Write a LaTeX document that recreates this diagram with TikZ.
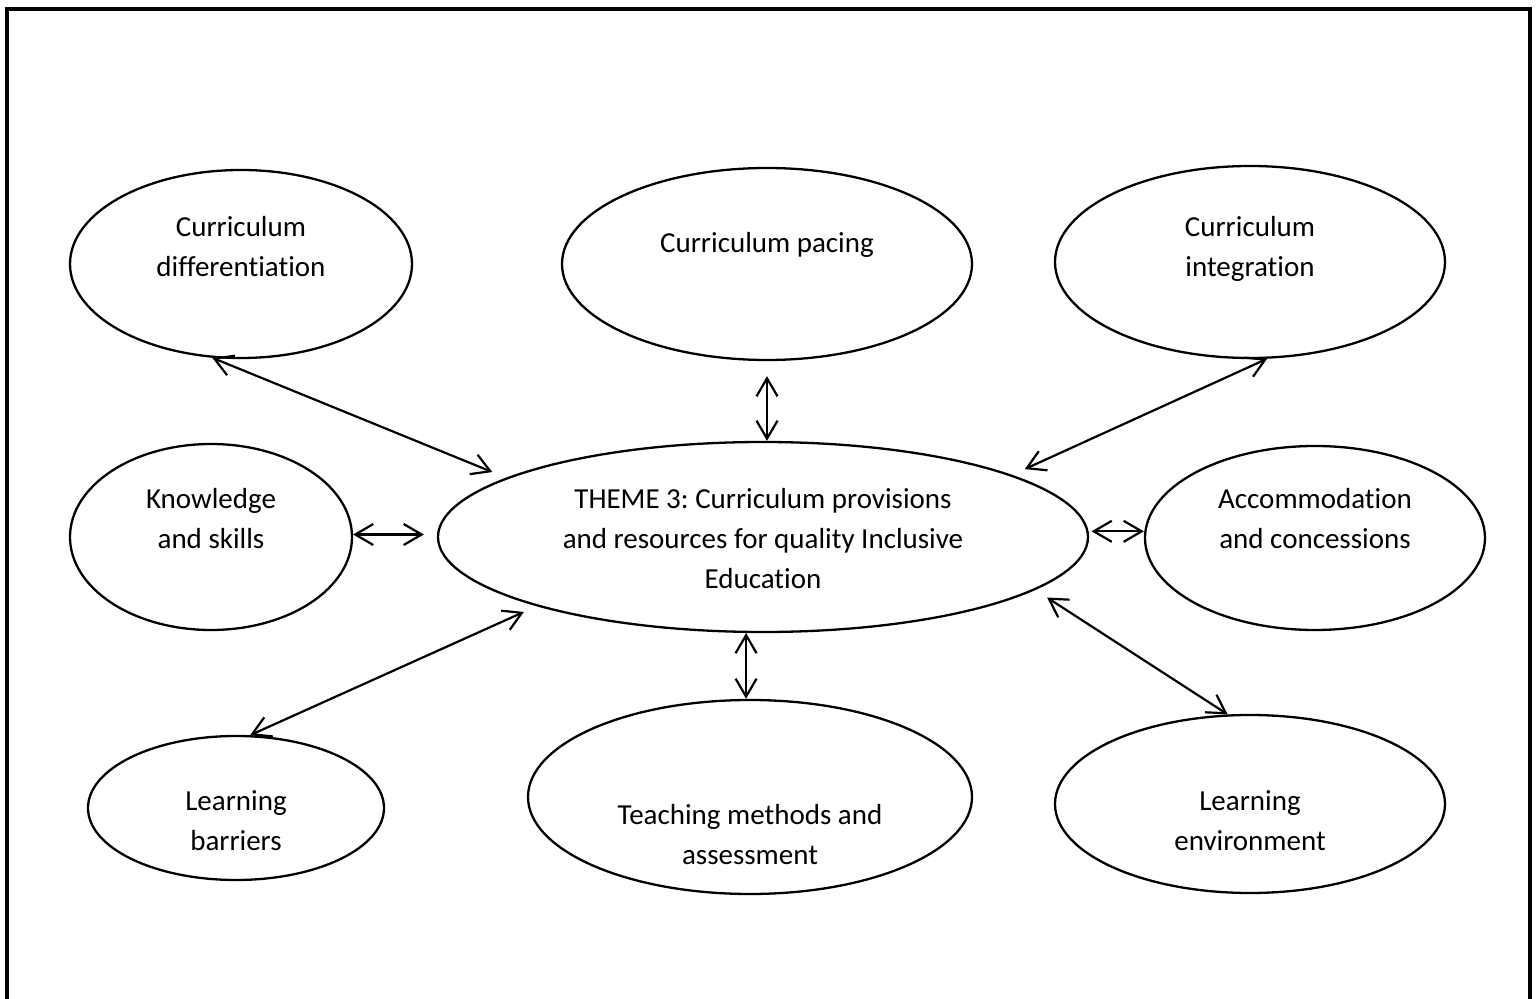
\documentclass[tikz,border=0pt]{standalone}
\usepackage{fontspec}
\setmainfont[Ligatures=NoCommon]{Carlito}
\usetikzlibrary{shapes.geometric,arrows.meta}
\newcommand\fstrut{\rule{0pt}{15pt}}
\frenchspacing
\begin{document}
\begin{tikzpicture}[x=0.5pt,y=-0.5pt,
  ell/.style={draw,ellipse,line width=1.15pt,inner sep=0pt},
  lbl/.style={anchor=north,align=center,inner sep=0pt,font=\frenchspacing\fontsize{14.5}{20}\selectfont},
  arr/.style={{Straight Barb[length=9pt,width=10.5pt]}-{Straight Barb[length=9pt,width=10.5pt]},line width=1.1pt}]
\useasboundingbox (0,0) rectangle (1538,999);
\draw[line width=2pt] (7,9) rectangle (1530,1012);
% ellipses
\node[ell,minimum width=171pt,minimum height=94pt] (diff) at (241,264) {};
\node[ell,minimum width=205pt,minimum height=96pt] (pac) at (767,264) {};
\node[ell,minimum width=195pt,minimum height=96pt] (integ) at (1250,262) {};
\node[ell,minimum width=141pt,minimum height=93pt] (kno) at (211,537) {};
\node[ell,minimum width=325pt,minimum height=95pt] (cen) at (763,537) {};
\node[ell,minimum width=170pt,minimum height=92pt] (acc) at (1315,538) {};
\node[ell,minimum width=148pt,minimum height=72pt] (bar) at (236,808) {};
\node[ell,minimum width=222pt,minimum height=97pt] (tea) at (750,797) {};
\node[ell,minimum width=195pt,minimum height=89pt] (env) at (1250,804) {};
% labels
\node[lbl] (t1) at (241,206) {\fstrut Curriculum\\differentiation};
\node[lbl] (t2) at (767,222) {\fstrut Curriculum pacing};
\node[lbl] (t3) at (1250,206) {\fstrut Curriculum\\integration};
\node[lbl] (t4) at (211,478) {\fstrut Knowledge\\and skills};
\node[lbl] (t5) at (763,478) {\fstrut THEME 3: Curriculum provisions\\and resources for quality Inclusive\\Education};
\node[lbl] (t6) at (1315,478) {\fstrut Accommodation\\and concessions};
\node[lbl] (t7) at (236,780) {\fstrut Learning\\barriers};
\node[lbl] (t8) at (750,794) {\fstrut Teaching methods and\\assessment};
\node[lbl] (t9) at (1250,780) {\fstrut Learning\\environment};
% connectors
\draw[arr,shorten >=7.5pt] (diff.253) -- (cen.167);
\draw[arr,shorten <=7.5pt] (pac.south) -- (pac.south |- cen.north);
\draw[arr,shorten >=7pt] (integ.280) -- (cen.14);
\draw[arr,shorten >=6.5pt] (kno.1.6) -- (kno.1.6 -| cen.west);
\draw[arr,shorten <=1.5pt] (cen.1) -- (cen.1 -| acc.west);
\draw[arr,shorten <=7pt] (cen.197) -- (bar.79);
\draw[arr] (cen.260) -- (cen.260 |- tea.north);
\draw[arr,shorten <=7pt] (cen.349.4) -- (env.104);
\end{tikzpicture}
\end{document}
